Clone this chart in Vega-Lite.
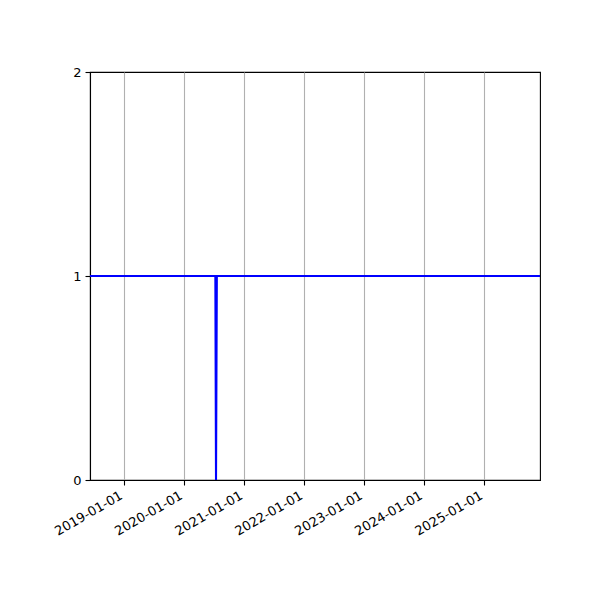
{
  "$schema": "https://vega.github.io/schema/vega-lite/v6.json",
  "width": 450,
  "height": 408,
  "autosize": {"type": "none"},
  "padding": {"left": 90, "top": 72, "right": 60, "bottom": 120},
  "background": "white",
  "data": {
    "values": [
      {"date": "2018-06-08", "value": 1},
      {"date": "2020-07-10", "value": 1},
      {"date": "2020-07-14", "value": 0},
      {"date": "2020-07-19", "value": 1},
      {"date": "2025-12-07", "value": 1}
    ]
  },
  "mark": {"type": "line", "color": "#0000ff", "strokeWidth": 2.1, "clip": true},
  "encoding": {
    "x": {
      "field": "date",
      "type": "temporal",
      "scale": {"type": "utc", "domain": [{"year": 2018, "month": 6, "date": 8, "utc": true}, {"year": 2025, "month": 12, "date": 7, "utc": true}], "nice": false},
      "axis": {
        "title": null,
        "values": [
          {"year": 2019, "month": 1, "date": 1, "utc": true},
          {"year": 2020, "month": 1, "date": 1, "utc": true},
          {"year": 2021, "month": 1, "date": 1, "utc": true},
          {"year": 2022, "month": 1, "date": 1, "utc": true},
          {"year": 2023, "month": 1, "date": 1, "utc": true},
          {"year": 2024, "month": 1, "date": 1, "utc": true},
          {"year": 2025, "month": 1, "date": 1, "utc": true}
        ],
        "format": "%Y-%m-%d",
        "labelAngle": -30,
        "labelAlign": "right",
        "labelBaseline": "top",
        "labelPadding": 4,
        "labelOffset": -6,
        "labelOverlap": false,
        "grid": true,
        "gridColor": "#b0b0b0",
        "gridWidth": 1.1
      }
    },
    "y": {
      "field": "value",
      "type": "quantitative",
      "scale": {"domain": [0, 2], "nice": false},
      "axis": {"title": null, "values": [0, 1, 2], "labelExpr": "format(datum.value, '.0f')", "grid": false, "labelPadding": 4, "labelOverlap": false}
    }
  },
  "config": {
    "view": {"stroke": "black", "strokeWidth": 1.1},
    "axis": {
      "labelFont": "DejaVu Sans",
      "labelFontSize": 13,
      "labelColor": "black",
      "domainColor": "black",
      "domainWidth": 1.1,
      "tickColor": "black",
      "tickSize": 5,
      "tickWidth": 1.1
    }
  }
}
